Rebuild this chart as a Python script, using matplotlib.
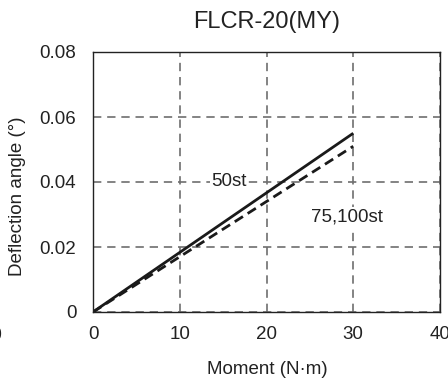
import matplotlib.pyplot as plt

plt.rcParams['font.family'] = ['Liberation Sans', 'DejaVu Sans']

# data
moment = [0, 30]
angle_50st = [0, 0.055]
angle_75_100st = [0, 0.051]
x_ticks = [0, 10, 20, 30, 40]
y_ticks = [0, 0.02, 0.04, 0.06, 0.08]
y_tick_labels = ['0', '0.02', '0.04', '0.06', '0.08']


def main():
    fig = plt.figure(figsize=(4.48, 3.81), dpi=100)
    ax = fig.add_axes([93 / 448, 1 - 312 / 381, 347 / 448, 260 / 381])

    ax.plot(moment, angle_50st, color='#1a1a1a', lw=2.0, solid_capstyle='butt')
    ax.plot(moment, angle_75_100st, color='#1a1a1a', lw=2.0, dashes=(3.5, 2))

    ax.set_xlim(x_ticks[0], x_ticks[-1])
    ax.set_ylim(y_ticks[0], y_ticks[-1])
    ax.set_xticks(x_ticks)
    ax.set_yticks(y_ticks)
    ax.set_yticklabels(y_tick_labels)
    ax.tick_params(axis='x', length=0, pad=10, labelsize=13.5, colors='#222222')
    ax.tick_params(axis='y', length=0, pad=12, labelsize=13.5, colors='#222222')
    for lbl in ax.get_xticklabels():
        lbl.set_clip_on(False)

    ax.grid(True, color='#6e6e6e', lw=1.2, dashes=(5, 3.5))
    for s in ax.spines.values():
        s.set_color('#222222')
        s.set_linewidth(1.0)

    box = dict(facecolor='white', edgecolor='none', pad=1)
    ax.text(15.7, 0.0403, '50st', fontsize=13.5, ha='center', va='center', color='#222222', bbox=box)
    ax.text(29.3, 0.0292, '75,100st', fontsize=13.5, ha='center', va='center', color='#222222', bbox=box)

    fig.text(267 / 448, 1 - 22 / 381, 'FLCR-20(MY)', fontsize=17, ha='center', va='center', color='#222222')
    fig.text(267 / 448, 1 - 370 / 381, 'Moment (N·m)', fontsize=13.5, ha='center', va='center', color='#222222')
    fig.text(18 / 448, 1 - 196 / 381, 'Deflection angle (°)', fontsize=13.5, rotation=90,
             ha='center', va='center', color='#222222')
    # clipped tick label of the neighbouring chart
    fig.text(3 / 448, 1 - 335 / 381, '40', fontsize=13.5, ha='right', va='center', color='#222222')

    fig.savefig('out.png', dpi=100)


if __name__ == '__main__':
    main()
